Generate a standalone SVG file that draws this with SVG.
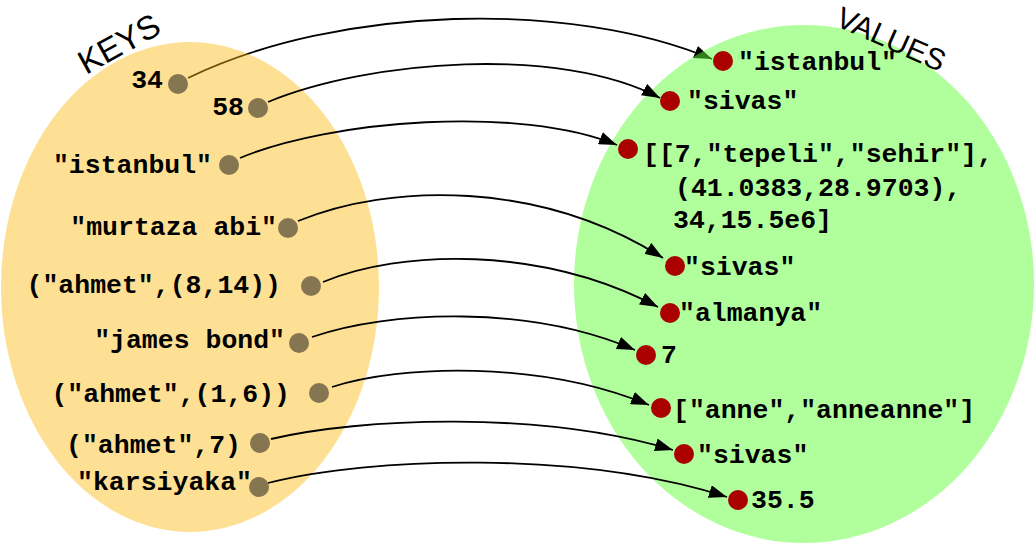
<svg xmlns="http://www.w3.org/2000/svg" width="1035" height="545" viewBox="0 0 1035 545">
<style>
.mono{font-family:"Liberation Mono","DejaVu Sans Mono",monospace;font-weight:bold;font-size:26.5px;fill:#000}
.title{font-family:"Liberation Sans","DejaVu Sans",sans-serif;font-size:31px;fill:#000}
.kdot{fill:#857550}
.vdot{fill:#aa0000}
.conn{fill:none;stroke:#000;stroke-width:1.8;marker-end:url(#ah)}
</style>
<defs>
<marker id="ah" markerWidth="18" markerHeight="13" refX="18" refY="6.5" orient="auto" markerUnits="userSpaceOnUse">
<path d="M0,0 L18,6.5 L0,13 z" fill="#000"/>
</marker>
</defs>
<rect width="1035" height="545" fill="#fff"/>
<g id="connector-behind">
<path class="conn" d="M188,78 C338,5 572,0 712,59"/>
</g>
<g id="keys-set">
<ellipse cx="190" cy="287" rx="189" ry="245" fill="#fbb805" fill-opacity="0.43"/>
<text class="title" style="font-size:33px" transform="translate(86,75) rotate(-29)">KEYS</text>
</g>
<g id="values-set">
<ellipse cx="804" cy="284" rx="230" ry="259" fill="#5eff35" fill-opacity="0.49"/>
<text class="title" style="font-size:30px" transform="translate(834,25) rotate(24)">VALUES</text>
</g>
<g id="connectors">
<path class="conn" d="M268,102 C370,60 560,45 660,98"/>
<path class="conn" d="M240,158 C330,120 520,105 617,145"/>
<path class="conn" d="M298,221 C390,183 540,180 663,258"/>
<path class="conn" d="M323,282 C400,250 540,245 658,307"/>
<path class="conn" d="M312,337 C390,310 530,305 635,350"/>
<path class="conn" d="M332,387 C400,365 540,360 649,405"/>
<path class="conn" d="M271,439 C360,418 540,410 673,450"/>
<path class="conn" d="M268,483 C370,457 580,450 727,497"/>
</g>
<g id="key-34"><circle class="kdot" cx="178" cy="84" r="10"/><text class="mono" x="163" y="88" text-anchor="end">34</text></g>
<g id="key-58"><circle class="kdot" cx="258" cy="108" r="10"/><text class="mono" x="244" y="115" text-anchor="end">58</text></g>
<g id="key-istanbul"><circle class="kdot" cx="229" cy="165" r="10"/><text class="mono" x="212" y="173" text-anchor="end">"istanbul"</text></g>
<g id="key-murtaza"><circle class="kdot" cx="288" cy="228" r="10"/><text class="mono" x="277" y="235" text-anchor="end">"murtaza abi"</text></g>
<g id="key-ahmet-8-14"><circle class="kdot" cx="311" cy="286" r="10"/><text class="mono" x="281" y="293" text-anchor="end">("ahmet",(8,14))</text></g>
<g id="key-james"><circle class="kdot" cx="299" cy="343" r="10"/><text class="mono" x="285" y="348" text-anchor="end">"james bond"</text></g>
<g id="key-ahmet-1-6"><circle class="kdot" cx="319" cy="393" r="10"/><text class="mono" x="290" y="402" text-anchor="end">("ahmet",(1,6))</text></g>
<g id="key-ahmet-7"><circle class="kdot" cx="260" cy="443" r="10"/><text class="mono" x="241" y="453" text-anchor="end">("ahmet",7)</text></g>
<g id="key-karsiyaka"><circle class="kdot" cx="259" cy="487" r="10"/><text class="mono" x="252" y="490" text-anchor="end">"karsiyaka"</text></g>
<g id="val-istanbul"><circle class="vdot" cx="723" cy="61" r="10"/><text class="mono" x="738" y="70">"istanbul"</text></g>
<g id="val-sivas-1"><circle class="vdot" cx="670" cy="101" r="10"/><text class="mono" x="687" y="109">"sivas"</text></g>
<g id="val-list"><circle class="vdot" cx="628" cy="149" r="10"/><text class="mono" x="643" y="162">[[7,"tepeli","sehir"],</text><text class="mono" x="675" y="196">(41.0383,28.9703),</text><text class="mono" x="673" y="228">34,15.5e6]</text></g>
<g id="val-sivas-2"><circle class="vdot" cx="675" cy="266" r="10"/><text class="mono" x="684" y="275">"sivas"</text></g>
<g id="val-almanya"><circle class="vdot" cx="670" cy="313" r="10"/><text class="mono" x="679" y="321">"almanya"</text></g>
<g id="val-7"><circle class="vdot" cx="646" cy="355" r="10"/><text class="mono" x="661" y="363">7</text></g>
<g id="val-anne"><circle class="vdot" cx="661" cy="408" r="10"/><text class="mono" x="673" y="418">["anne","anneanne"]</text></g>
<g id="val-sivas-3"><circle class="vdot" cx="684" cy="454" r="10"/><text class="mono" x="697" y="463">"sivas"</text></g>
<g id="val-35-5"><circle class="vdot" cx="738" cy="500" r="10"/><text class="mono" x="751" y="508">35.5</text></g>
</svg>
